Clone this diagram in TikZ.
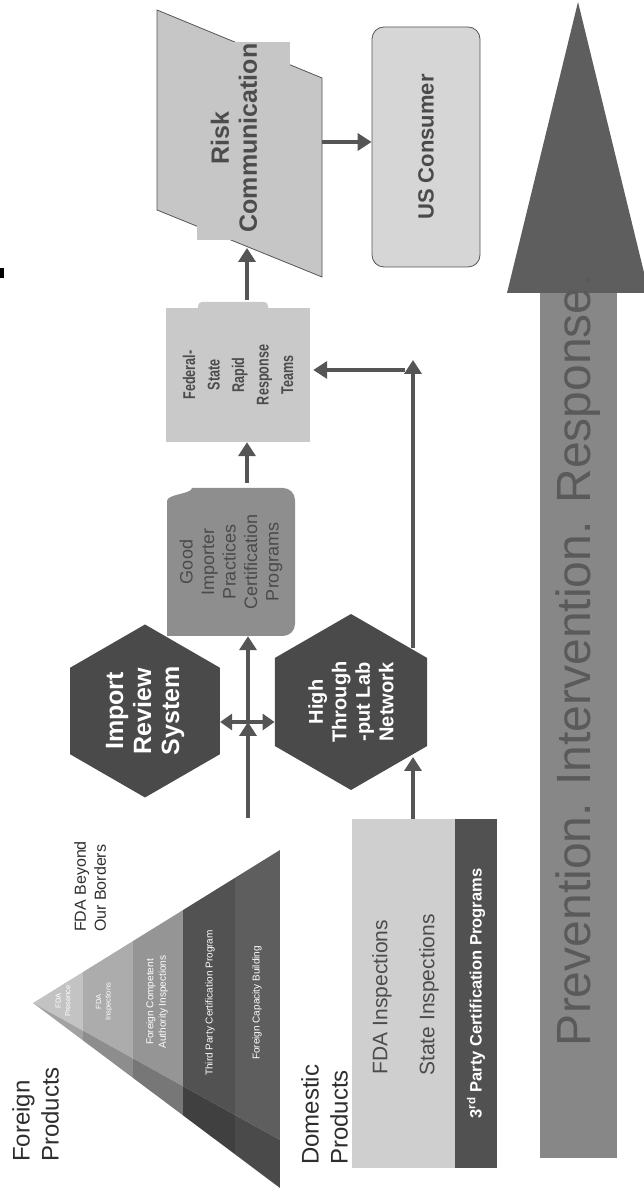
\documentclass[tikz,border=0pt]{standalone}
\usepackage{fontspec}
\setmainfont{Liberation Sans}
\usetikzlibrary{shapes.geometric,arrows.meta}
\definecolor{hexfill}{HTML}{4A4A4A}
\definecolor{arrowgray}{HTML}{555555}
\definecolor{titlegray}{HTML}{2E2E2E}
\definecolor{gipfill}{HTML}{8E8E8E}
\definecolor{giptext}{HTML}{4A4A4A}
\definecolor{fedfill}{HTML}{C9C9C9}
\definecolor{fedtext}{HTML}{4C4C4C}
\definecolor{riskfill}{HTML}{C6C6C6}
\definecolor{usfill}{HTML}{D6D6D6}
\definecolor{domfill}{HTML}{CFCFCF}
\definecolor{domdark}{HTML}{515151}
\definecolor{shaftgray}{HTML}{878787}
\definecolor{headgray}{HTML}{5E5E5E}
\definecolor{bigtext}{HTML}{5A5A5A}
\definecolor{pfa}{HTML}{C3C3C3}
\definecolor{pfb}{HTML}{ACACAC}
\definecolor{pfc}{HTML}{959595}
\definecolor{pfd}{HTML}{525252}
\definecolor{pfe}{HTML}{5E5E5E}
\definecolor{psa}{HTML}{A2A2A2}
\definecolor{psb}{HTML}{8D8D8D}
\definecolor{psc}{HTML}{777777}
\definecolor{psd}{HTML}{404040}
\definecolor{pse}{HTML}{4A4A4A}
\begin{document}
\begin{tikzpicture}[x=1pt,y=1pt,
  conn/.style={draw=arrowgray, line width=4.5pt, -{Triangle[length=14pt,width=17pt]}},
  dbl/.style={draw=arrowgray, line width=4.5pt, {Triangle[length=12pt,width=16pt]}-{Triangle[length=12pt,width=16pt]}},
  hexnode/.style={regular polygon, regular polygon sides=6, fill=hexfill, text=white, align=center, inner sep=0pt},
  titletext/.style={font=\fontsize{24}{29}\selectfont, text=titlegray, align=left, inner sep=0pt},
  ptext/.style={text=white, align=center, inner sep=0pt}]
\begin{scope}[rotate=90, transform shape]
\useasboundingbox (0,0) rectangle (1193,-643);

% titles
\node[titletext, anchor=north west] (fp) at (31,-12) {Foreign\\Products};
\node[titletext, anchor=north west] (dp) at (28,-301) {Domestic\\Products};
\node[anchor=north west, font=\fontsize{16}{20}\selectfont, text=titlegray, align=left, inner sep=0pt] (fbb) at (261,-74) {FDA Beyond\\Our Borders};

% pyramid front face
\begin{scope}
\clip (190,-33) -- (53,-280) -- (343,-280) -- cycle;
\fill[pfa] (0,-20) rectangle (400,-83);
\fill[pfb] (0,-83) rectangle (400,-133);
\fill[pfc] (0,-133) rectangle (400,-183);
\fill[pfd] (0,-183) rectangle (400,-235);
\fill[pfe] (0,-235) rectangle (400,-281);
\end{scope}
% pyramid side face
\begin{scope}
\clip (190,-33) -- (5,-280) -- (53,-280) -- cycle;
\fill[psa] (0,-20) rectangle (400,-83);
\fill[psb] (0,-83) rectangle (400,-133);
\fill[psc] (0,-133) rectangle (400,-183);
\fill[psd] (0,-183) rectangle (400,-235);
\fill[pse] (0,-235) rectangle (400,-281);
\end{scope}
\node[ptext, font=\fontsize{7.5}{9.5}\selectfont] (p1) at (192,-63) {FDA\\Presence};
\node[ptext, font=\fontsize{7.5}{9.5}\selectfont] (p2) at (191,-104) {FDA\\Inspections};
\node[ptext, font=\fontsize{10}{12.5}\selectfont] (p3) at (191,-157) {Foreign Competent\\Authority Inspections};
\node[ptext, font=\fontsize{10}{12}\selectfont] (p4) at (190,-210) {Third Party Certification Program};
\node[ptext, font=\fontsize{10}{12}\selectfont] (p5) at (190,-257) {Foreign Capacity Building};

% domestic box
\node[fill=domfill, minimum width=349pt, minimum height=103pt, inner sep=0pt] (dom) at (199.5,-403.5) {};
\node[font=\fontsize{21}{24}\selectfont, text=fedtext, inner sep=0pt] (fdai) at (196,-382) {FDA Inspections};
\node[font=\fontsize{21}{24}\selectfont, text=fedtext, inner sep=0pt] (stai) at (198,-429) {State Inspections};
\node[fill=domdark, minimum width=349pt, minimum height=42pt, inner sep=0pt, text=white, font=\bfseries\fontsize{16.5}{19}\selectfont] (tpc) at (199.5,-476) {3\textsuperscript{rd} Party Certification Programs};

% big arrow
\fill[shaftgray] (35,-540) rectangle (902,-617);
\fill[headgray] (900,-507) -- (1191,-578) -- (900,-649) -- cycle;
\node[font=\fontsize{48}{52}\selectfont, text=bigtext, inner sep=0pt] (pir) at (533,-578) {Prevention. Intervention. Response.};

% hexagons
\node[hexnode, minimum size=173pt, font=\bfseries\fontsize{25}{28}\selectfont] (irs) at (482,-145) {Import\\Review\\System};
\node[hexnode, minimum size=176pt, font=\bfseries\fontsize{20}{23.5}\selectfont] (thr) at (491,-351) {High\\Through\\-put Lab\\Network};

% good importer box
\fill[gipfill] (557,-167) -- (692,-167) .. controls (699,-167) and (699,-192) .. (705,-192) [rounded corners=12pt] -- (705,-295) -- (557,-295) [sharp corners] -- cycle;
\node[minimum width=148pt, minimum height=128pt, inner sep=0pt, text=giptext, align=center, font=\fontsize{18}{21.5}\selectfont] (gip) at (631,-231) {Good\\Importer\\Practices\\Certification\\Programs};

% federal-state box
\fill[fedfill, rounded corners=4pt] (878,-198) rectangle (891,-268);
\node[fill=fedfill, minimum width=134pt, minimum height=144pt, inner sep=0pt, text=fedtext, align=center, font=\bfseries\fontsize{17}{24.5}\selectfont] (fed) at (818,-238) {\scalebox{0.74}[1]{Federal-}\\\scalebox{0.74}[1]{State}\\\scalebox{0.74}[1]{Rapid}\\\scalebox{0.74}[1]{Response}\\\scalebox{0.74}[1]{Teams}};

% risk communication
\filldraw[fill=riskfill, draw=arrowgray, line width=0.8pt] (983,-157) -- (1183,-157) -- (1115,-322) -- (916,-322) -- cycle;
\fill[riskfill] (953,-197) rectangle (1151,-290);
\node[text=fedtext, align=center, inner sep=0pt, font=\bfseries\fontsize{25}{28}\selectfont] (risk) at (1055,-234) {Risk\\Communication};

% US consumer
\node[fill=usfill, draw=arrowgray, line width=0.8pt, rounded corners=12pt, minimum width=240pt, minimum height=108pt, inner sep=0pt, text=hexfill, font=\bfseries\fontsize{22}{26}\selectfont] (us) at (1046,-426) {US Consumer};

% small mark
\fill[black] (915,0) rectangle (925,-4);

% connectors
\coordinate (dx) at (471,0);
\coordinate (pyout) at (375,-248);
\coordinate (r2) at (0,-247);
\coordinate (riskW) at (945,-247);
\coordinate (riskS) at (1051,-322);
\coordinate (hin) at (436,-413);
\coordinate (hout) at (545,-413);
\coordinate (hcorner) at (833,-413);
\coordinate (vstart) at (823,-405);

\draw[dbl] (irs.south -| dx) -- (thr.north -| dx);
\draw[conn] (pyout) -- (dx |- pyout);
\draw[conn] (dx |- pyout) -- (gip.west |- pyout);
\draw[conn, shorten <=5pt] (gip.east |- r2) -- (fed.west |- r2);
\draw[conn, shorten <=8pt] (fed.east |- r2) -- (riskW);
\draw[conn] (riskS) -- (us.north -| riskS);
\draw[conn] (dom.east |- hin) -- (hin);
\draw[conn] (hout) -- (hcorner);
\draw[conn, shorten >=3pt] (vstart) -- (fed.south -| vstart);
\end{scope}
\end{tikzpicture}
\end{document}
